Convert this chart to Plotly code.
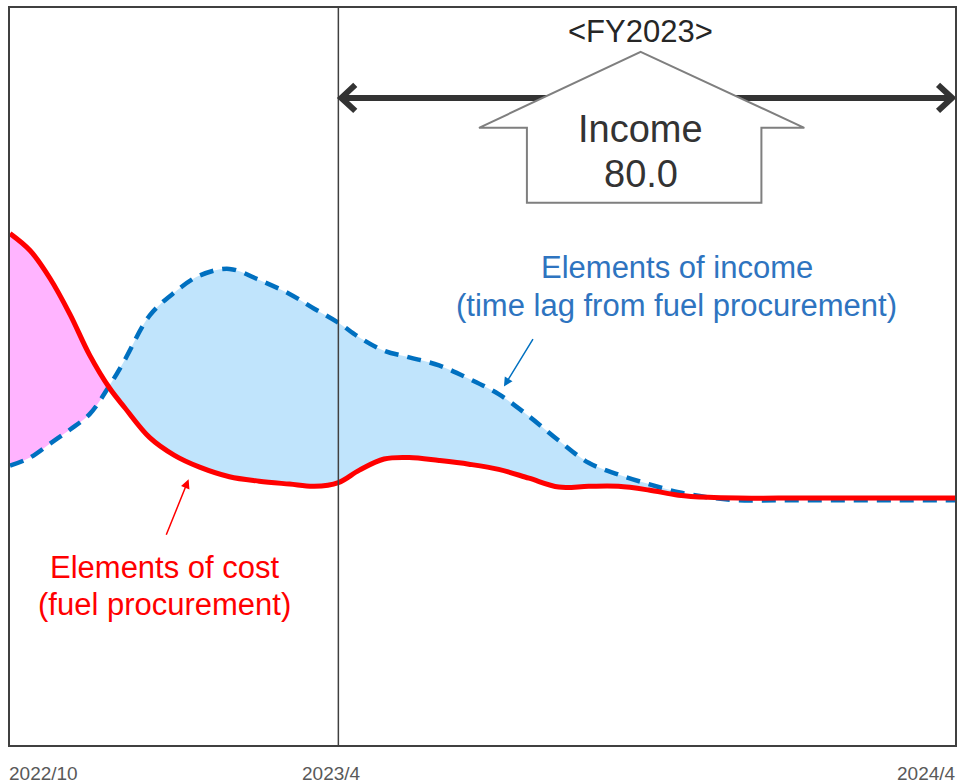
import plotly.graph_objects as go

# ---------------- data ----------------
# x: months since 2022/10 (0 = 2022/10, 6 = 2023/4, 18 = 2024/4)
months = [-0.39, 0.0, 0.39, 0.78, 1.16, 1.55, 1.84, 2.33, 2.81, 3.30, 3.88, 4.46,
          5.05, 5.53, 6.0, 6.41, 6.89, 7.38, 7.96, 8.54, 9.12, 9.71, 10.29, 10.87,
          11.45, 12.04, 12.62, 13.20, 13.78, 14.56, 15.92, 18.0]
cost = [69.4, 67.1, 63.3, 58.4, 52.9, 48.4, 45.8, 41.7, 39.3, 37.7, 36.4, 35.8,
        35.4, 35.1, 35.6, 37.3, 38.8, 39.0, 38.6, 38.1, 37.4, 36.2, 35.0, 35.1,
        35.1, 34.6, 33.9, 33.6, 33.5, 33.5, 33.5, 33.5]
income = [37.9, 39.0, 40.9, 42.8, 44.9, 48.8, 52.2, 58.3, 61.4, 63.7, 64.6, 63.1,
          61.2, 59.2, 57.3, 55.3, 53.5, 52.6, 51.5, 49.7, 47.6, 44.6, 41.3, 38.3,
          36.7, 35.4, 34.3, 33.6, 33.2, 33.2, 33.2, 33.2]

tick_vals = [-0.39, 6.0, 18.0]
tick_text = ["2022/10", "2023/4", "2024/4"]
fy_start, fy_end = 6.0, 18.0
income_lines = ["Income", "80.0"]

X_MIN, X_MAX = -0.39, 18.0
Y_MIN, Y_MAX = 0, 100

RED = "#FF0000"
BLUE = "#0070C0"
TXT_BLUE = "#2E74C0"
PINK = "#FFB4FF"
LIGHT_BLUE = "#C0E4FC"
FONT = "Liberation Sans, Arial, sans-serif"

# ------------- split into fill segments at crossings -------------
def segments(x, a, b):
    segs = []
    cur_x, cur_a, cur_b = [x[0]], [a[0]], [b[0]]
    sign = (b[0] - a[0]) > 0
    for i in range(1, len(x)):
        s = (b[i] - a[i]) > 0
        if s != sign:
            d0 = b[i - 1] - a[i - 1]
            d1 = b[i] - a[i]
            t = d0 / (d0 - d1)
            xc = x[i - 1] + t * (x[i] - x[i - 1])
            yc = a[i - 1] + t * (a[i] - a[i - 1])
            cur_x.append(xc); cur_a.append(yc); cur_b.append(yc)
            segs.append((sign, cur_x, cur_a, cur_b))
            cur_x, cur_a, cur_b = [xc], [yc], [yc]
            sign = s
        cur_x.append(x[i]); cur_a.append(a[i]); cur_b.append(b[i])
    segs.append((sign, cur_x, cur_a, cur_b))
    return segs

fig = go.Figure()

for pos, sx, sa, sb in segments(months, cost, income):
    fig.add_trace(go.Scatter(x=sx, y=sa, mode="lines", line=dict(width=0, shape="spline"),
                             hoverinfo="skip", showlegend=False))
    fig.add_trace(go.Scatter(x=sx, y=sb, mode="lines", line=dict(width=0, shape="spline"),
                             fill="tonexty", fillcolor=LIGHT_BLUE if pos else PINK,
                             hoverinfo="skip", showlegend=False))

fig.add_trace(go.Scatter(x=months, y=income, mode="lines", name="Elements of income",
                         line=dict(color=BLUE, width=4.5, dash="14px,9px", shape="spline"),
                         showlegend=False))
fig.add_trace(go.Scatter(x=months, y=cost, mode="lines", name="Elements of cost",
                         line=dict(color=RED, width=5, shape="spline"),
                         showlegend=False))

# ------------- helpers (pixel -> axis units for decorations) -------------
def px2x(px):
    return X_MIN + (px - 10) / 947 * (X_MAX - X_MIN)

def py2y(py):
    return Y_MAX - (py - 7) / 738 * (Y_MAX - Y_MIN)

shapes = []
# vertical divider at 2023/4
shapes.append(dict(type="line", xref="x", yref="paper", x0=fy_start, x1=fy_start, y0=0, y1=1,
                   line=dict(color="#404040", width=1.5)))
# double-headed arrow for FY2023
ya = py2y(97)
shapes.append(dict(type="line", xref="x", yref="y", x0=fy_start + 0.05, x1=fy_end - 0.05, y0=ya, y1=ya,
                   line=dict(color="#333333", width=6)))
shapes.append(dict(type="path", xref="x", yref="y",
                   path=f"M {px2x(356)},{py2y(84)} L {px2x(342)},{ya} L {px2x(356)},{py2y(110)}",
                   line=dict(color="#333333", width=6)))
shapes.append(dict(type="path", xref="x", yref="y",
                   path=f"M {px2x(940)},{py2y(84)} L {px2x(954)},{ya} L {px2x(940)},{py2y(110)}",
                   line=dict(color="#333333", width=6)))
# up-arrow (house) box
pts = [(642, 51), (806, 127), (763, 127), (763, 202), (528, 202), (528, 127), (480, 127)]
path = "M " + " L ".join(f"{px2x(a)},{py2y(b)}" for a, b in pts) + " Z"
shapes.append(dict(type="path", xref="x", yref="y", path=path,
                   fillcolor="white", line=dict(color="#7F7F7F", width=2)))

# ------------- annotations -------------
ann = []
def text(px, py, t, size, color):
    ann.append(dict(x=px2x(px), y=py2y(py), xref="x", yref="y", text=t, showarrow=False,
                    font=dict(family=FONT, size=size, color=color)))

text(642, 31, "&lt;FY2023&gt;", 31, "#262626")
text(642, 128, income_lines[0], 38, "#333333")
text(642, 173, income_lines[1], 38, "#333333")
text(678, 267, "Elements of income", 31, TXT_BLUE)
text(678, 305, "(time lag from fuel procurement)", 31, TXT_BLUE)
text(165, 567, "Elements of cost", 31, RED)
text(165, 604, "(fuel procurement)", 31, RED)

# pointer arrows
ann.append(dict(x=px2x(505), y=py2y(386), ax=px2x(535), ay=py2y(337), xref="x", yref="y",
                axref="x", ayref="y", text="", showarrow=True, arrowhead=2, arrowsize=1.2,
                arrowwidth=1.5, arrowcolor=BLUE))
ann.append(dict(x=px2x(189), y=py2y(479), ax=px2x(166), ay=py2y(536), xref="x", yref="y",
                axref="x", ayref="y", text="", showarrow=True, arrowhead=2, arrowsize=1.2,
                arrowwidth=1.5, arrowcolor=RED))
# tick labels
anchors = ["left", "center", "right"]
shifts = [-3, -7, 3]
for v, t, a, s in zip(tick_vals, tick_text, anchors, shifts):
    ann.append(dict(x=v, y=0, xref="x", yref="paper", yanchor="middle", yshift=-28, xanchor=a,
                    xshift=s, text=t, showarrow=False,
                    font=dict(family=FONT, size=19, color="#595959")))

fig.update_layout(
    width=963, height=784,
    margin=dict(l=10, r=6, t=7, b=39),
    paper_bgcolor="white", plot_bgcolor="white",
    shapes=shapes, annotations=ann, showlegend=False,
    xaxis=dict(range=[X_MIN, X_MAX], showgrid=False, zeroline=False, showticklabels=False,
               ticks="", showline=True, mirror=True, linecolor="#404040", linewidth=2),
    yaxis=dict(range=[Y_MIN, Y_MAX], showgrid=False, zeroline=False, showticklabels=False,
               ticks="", showline=True, mirror=True, linecolor="#404040", linewidth=2),
)

fig.write_html("out.html", config={"displayModeBar": False},
               post_script="document.body.style.margin='0px';document.body.style.overflow='hidden';")
